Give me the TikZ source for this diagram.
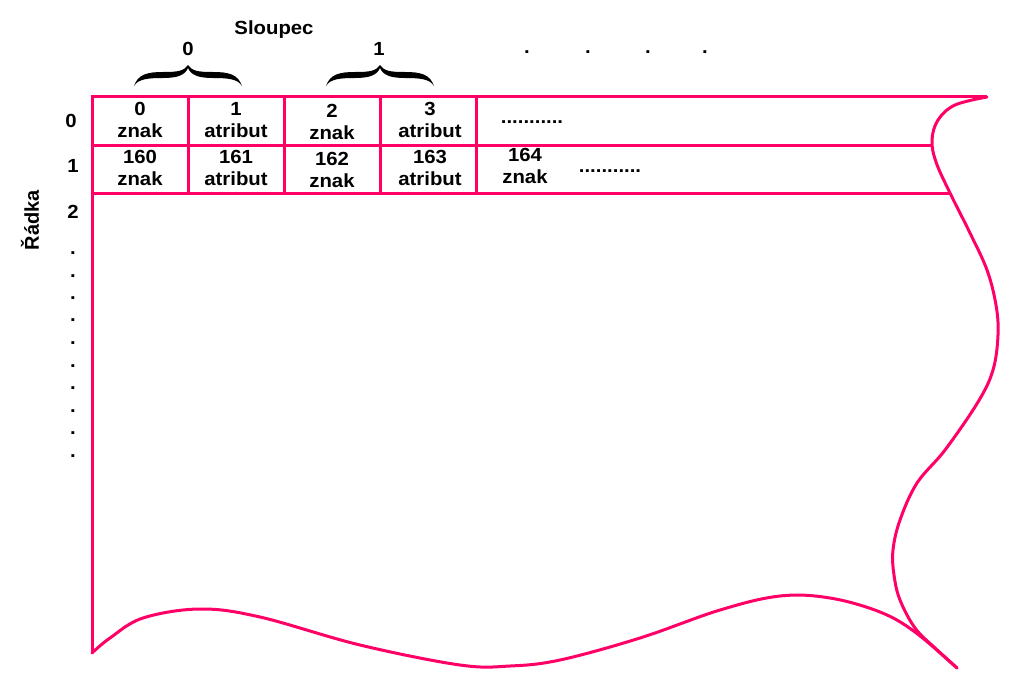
\documentclass[tikz,border=0pt]{standalone}
\usepackage{fontspec}
\setmainfont{Liberation Sans}
\definecolor{linepink}{HTML}{FF0066}
\begin{document}
\begin{tikzpicture}[x=1pt,y=-1pt,
  lbl/.style={font=\bfseries\fontsize{19}{22.5}\selectfont, align=center, inner sep=0pt, xscale=1.07},
  cell/.style={lbl, anchor=north},
  gridline/.style={draw=linepink, line width=3pt},
  wave/.style={draw=linepink, line width=3pt, line join=round, line cap=round},
  halfbrace/.pic={\fill[black] (0,0) .. controls (-4,6) and (-10,7) .. (-25,7) .. controls (-40,7) and (-50,9) .. (-54,21) .. controls (-50,14) and (-40,13) .. (-25,13) .. controls (-10,13) and (-3,10) .. (0,3) -- cycle;}]
\useasboundingbox (0,0) rectangle (1028,699);

% grid lines
\draw[gridline] (92,653) -- (92,96) -- (987,96);
\draw[gridline] (92,145) -- (933,145);
\draw[gridline] (92,193) -- (951,193);
\foreach \x in {188,284,380,476} \draw[gridline] (\x,96) -- (\x,193);

% right wavy edge
\draw[wave] plot[smooth, tension=0.6] coordinates {(987,97) (955,105) (938,120) (932,140) (936,162) (950,193) (970,233) (987,270) (996,305) (998,335) (993,370) (978,402) (945,450) (917,483) (900,520) (893,550) (894,575) (900,600) (915,628) (935,648) (957,668)};
% bottom wavy edge
\draw[wave] plot[smooth, tension=0.6] coordinates {(92,653) (110,638) (143,618) (200,609) (260,617) (360,645) (460,665) (510,666) (560,660) (640,638) (720,610) (780,596) (830,598) (880,612) (915,632) (957,668)};

% header
\node[lbl] (sloupec) at (274,30) {Sloupec};
\node[lbl] (c0) at (188,49) {0};
\node[lbl] (c1) at (379,49) {1};
\node[lbl] (d1) at (527,52) {.};
\node[lbl] (d2) at (588,52) {.};
\node[lbl] (d3) at (648,52) {.};
\node[lbl] (d4) at (705,52) {.};

% braces
\pic at (188,65) {halfbrace};
\pic[xscale=-1] at (188,65) {halfbrace};
\pic at (380,65) {halfbrace};
\pic[xscale=-1] at (380,65) {halfbrace};

% cells row 0
\node[cell] (r0c0) at (140,102) {0\\znak};
\node[cell] (r0c1) at (236,102) {1\\atribut};
\node[cell] (r0c2) at (332,104) {2\\znak};
\node[cell] (r0c3) at (430,102) {3\\atribut};
\node[lbl] (r0d) at (532,122) {...........};
% cells row 1
\node[cell] (r1c0) at (140,150) {160\\znak};
\node[cell] (r1c1) at (236,150) {161\\atribut};
\node[cell] (r1c2) at (332,152) {162\\znak};
\node[cell] (r1c3) at (430,150) {163\\atribut};
\node[cell] (r1c4) at (525,148) {164\\znak};
\node[lbl] (r1d) at (610,171) {...........};

% row labels
\node[lbl] (rl0) at (71,121) {0};
\node[lbl] (rl1) at (73,166) {1};
\node[lbl] (rl2) at (73,212) {2};
\foreach \y [count=\i] in {253,276,298,320,343,366,388,411,433,456}
  \node[lbl] (rd\i) at (73,\y) {.};
\node[font=\bfseries\fontsize{20}{24}\selectfont, inner sep=0pt, rotate=90] (radka) at (30,220) {Řádka};
\end{tikzpicture}
\end{document}
